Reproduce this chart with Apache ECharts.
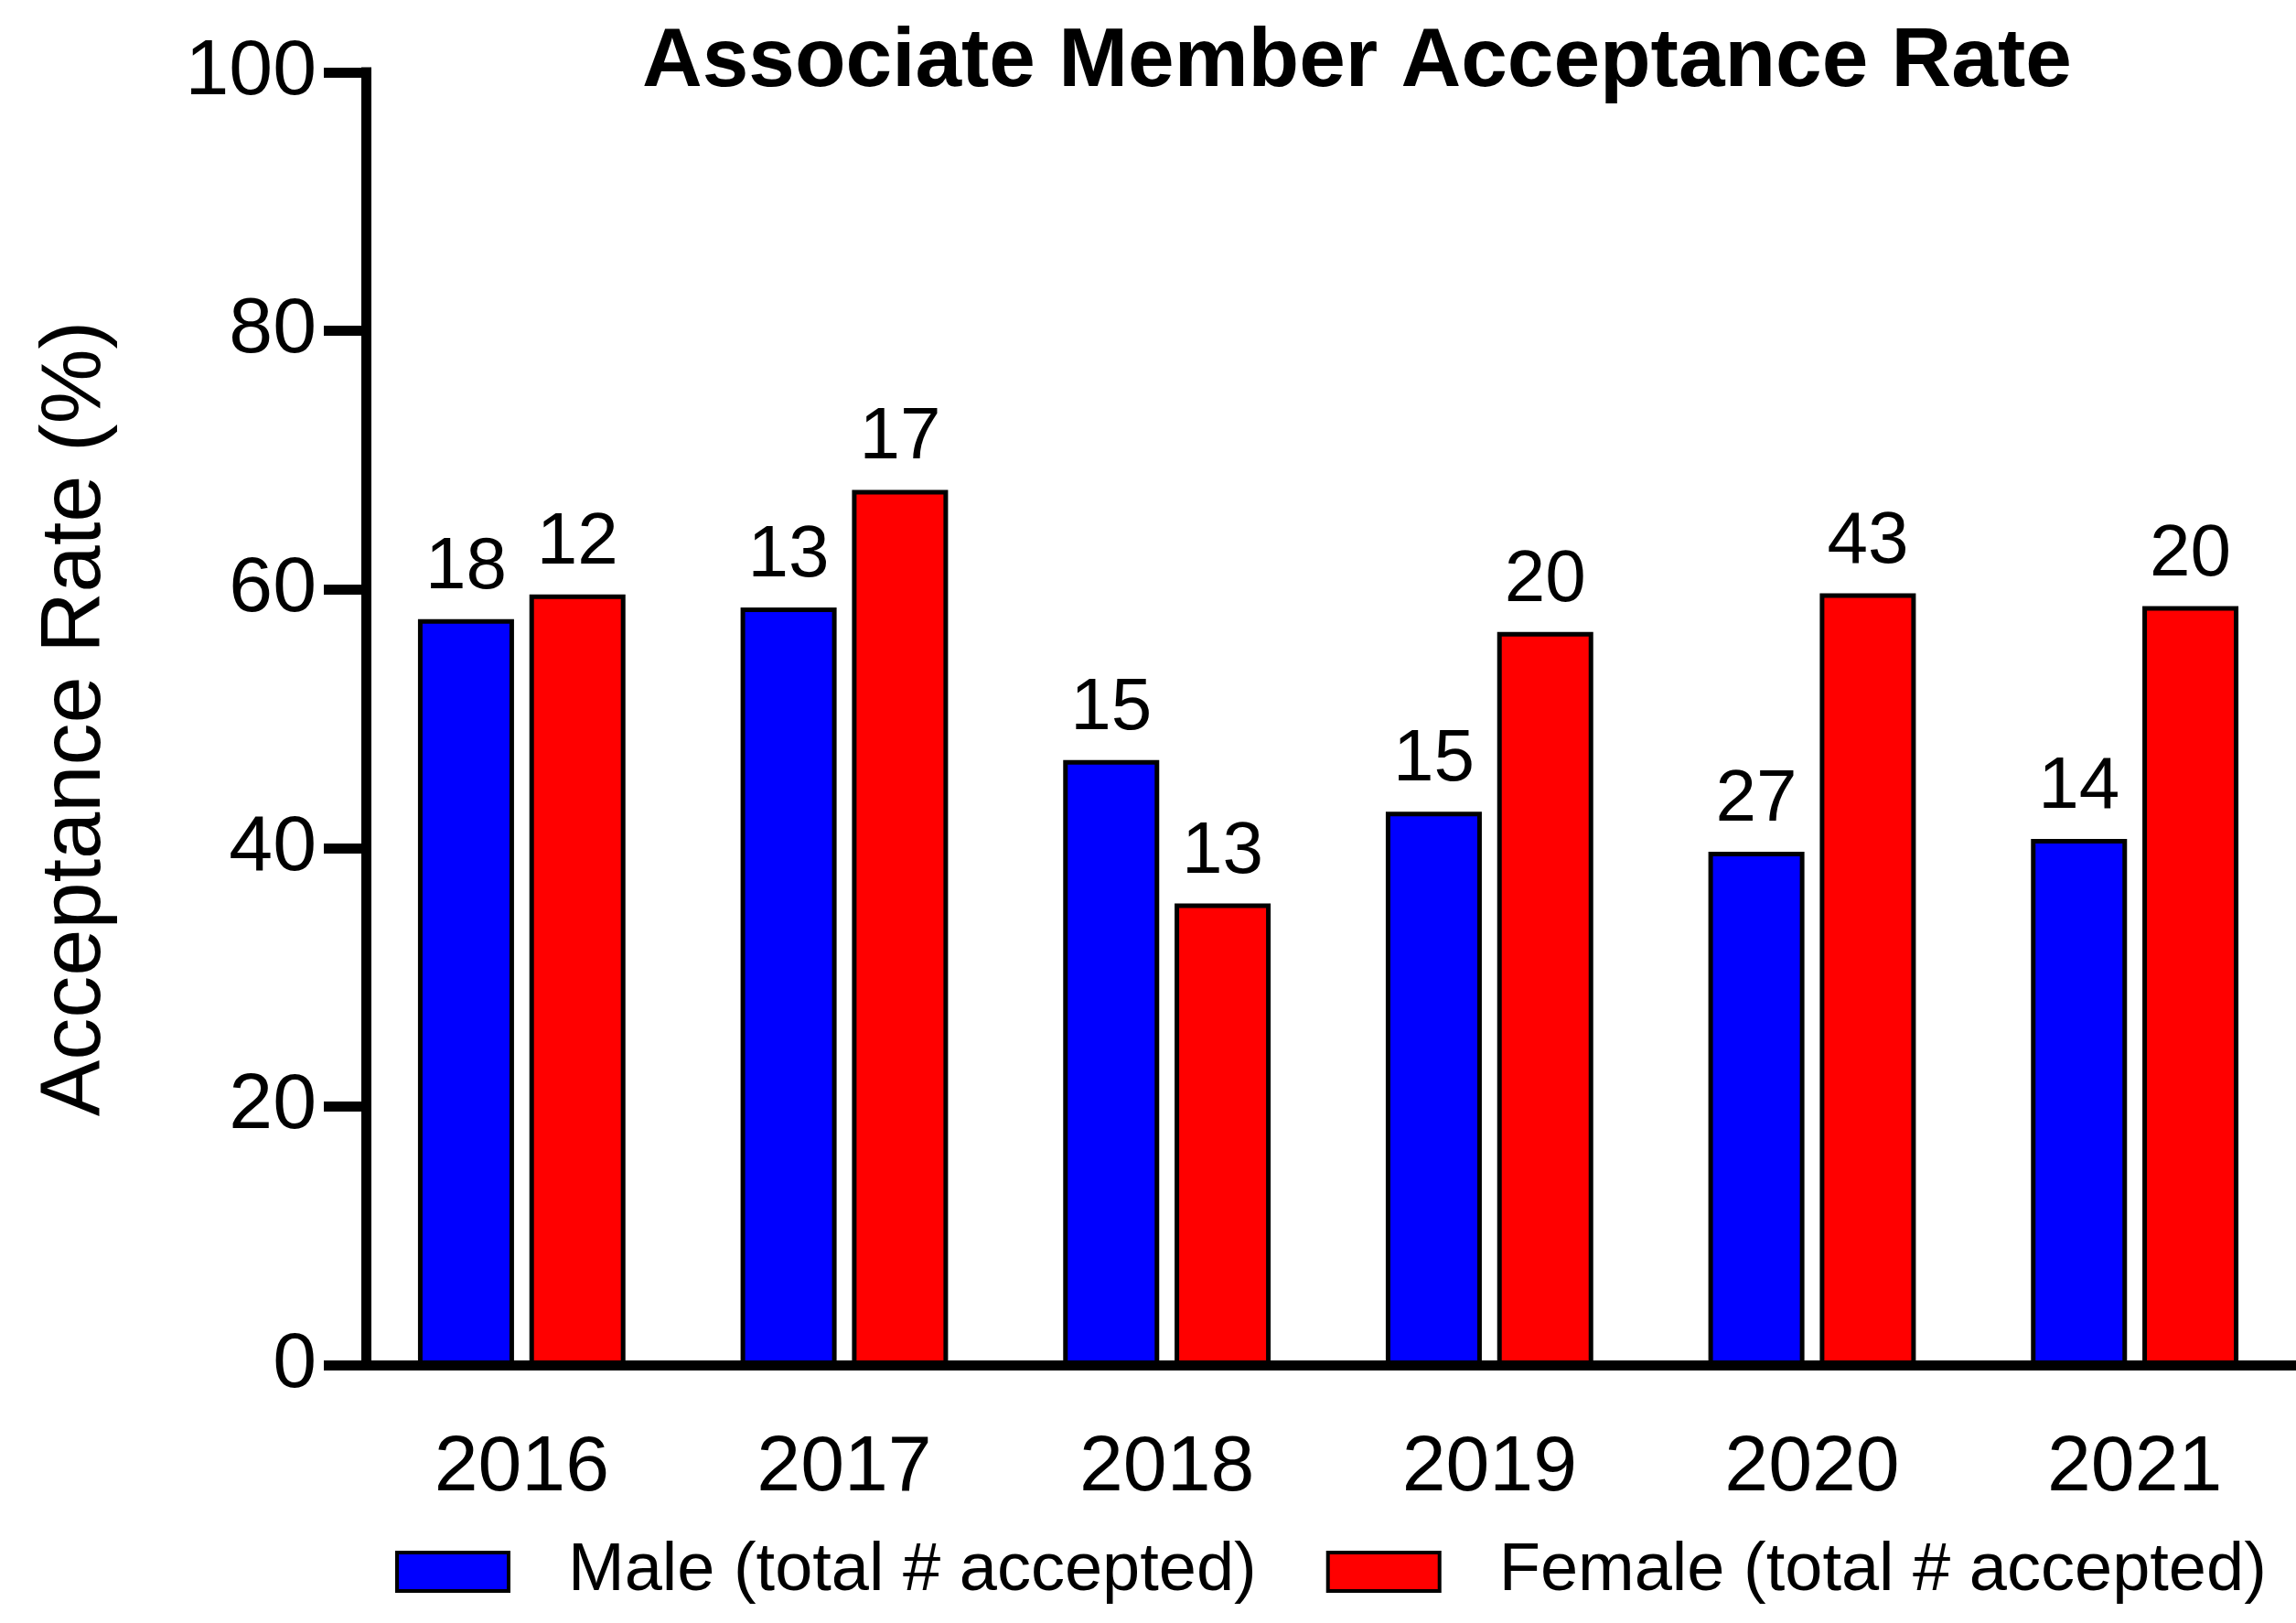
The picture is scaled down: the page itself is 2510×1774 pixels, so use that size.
<!DOCTYPE html>
<html>
<head>
<meta charset="utf-8">
<script src="https://cdn.jsdelivr.net/npm/echarts@6/dist/echarts.min.js"></script>
<style>
  html, body { margin: 0; padding: 0; background: #fff; }
  #chart { width: 2510px; height: 1774px; }
</style>
</head>
<body>
<div id="chart"></div>
<script>
const years = ['2016', '2017', '2018', '2019', '2020', '2021']
const maleRate = [57.7, 58.6, 46.8, 42.8, 39.7, 40.7]
const femaleRate = [59.6, 67.7, 35.7, 56.7, 59.7, 58.7]
const maleCount = [18, 13, 15, 15, 27, 14]
const femaleCount = [12, 17, 13, 20, 43, 20]

const font = '"Liberation Sans", Arial, Helvetica, sans-serif'
const axisWidth = 11

const chart = echarts.init(document.getElementById('chart'), null, { renderer: 'canvas' })

const barLabel = (counts) => ({
  show: true,
  position: 'top',
  distance: 16,
  color: '#000',
  fontFamily: font,
  fontSize: 80,
  formatter: (p) => String(counts[p.dataIndex])
})

chart.setOption({
  backgroundColor: '#fff',
  animation: false,
  title: {
    text: 'Associate Member Acceptance Rate',
    left: 702,
    top: 23,
    padding: 0,
    textStyle: { fontFamily: font, fontSize: 91, fontWeight: 'bold', color: '#000' }
  },
  legend: {
    left: 432,
    top: 1681,
    width: 2400,
    padding: 0,
    icon: 'rect',
    itemWidth: 122,
    itemHeight: 42,
    itemGap: 76,
    itemStyle: { borderColor: '#000', borderWidth: 4 },
    textStyle: { fontFamily: font, fontSize: 74, color: '#000', padding: [0, 0, 0, 60] }
  },
  grid: { left: 394, top: 79, width: 2121, height: 1413 },
  xAxis: {
    type: 'category',
    data: years,
    axisLine: { lineStyle: { color: '#000', width: axisWidth } },
    axisTick: { alignWithLabel: true, length: 46, lineStyle: { color: '#000', width: axisWidth } },
    axisLabel: { color: '#000', fontFamily: font, fontSize: 86, margin: 70 }
  },
  yAxis: {
    type: 'value',
    min: 0,
    max: 100,
    interval: 20,
    offset: -6,
    name: 'Acceptance Rate (%)',
    nameLocation: 'middle',
    nameGap: 270,
    nameTextStyle: { fontFamily: font, fontSize: 92, color: '#000' },
    splitLine: { show: false },
    axisLine: { show: true, lineStyle: { color: '#000', width: axisWidth, cap: 'square' } },
    axisTick: { show: true, length: 46, lineStyle: { color: '#000', width: axisWidth } },
    axisLabel: { color: '#000', fontFamily: font, fontSize: 86, margin: 54 }
  },
  series: [
    {
      name: 'Male (total # accepted)',
      type: 'bar',
      data: maleRate,
      barWidth: 105,
      barGap: '16%',
      itemStyle: { color: '#0000ff', borderColor: '#000', borderWidth: 5 },
      label: barLabel(maleCount)
    },
    {
      name: 'Female (total # accepted)',
      type: 'bar',
      data: femaleRate,
      barWidth: 105,
      barGap: '16%',
      itemStyle: { color: '#ff0000', borderColor: '#000', borderWidth: 5 },
      label: barLabel(femaleCount)
    }
  ]
})
</script>
</body>
</html>
